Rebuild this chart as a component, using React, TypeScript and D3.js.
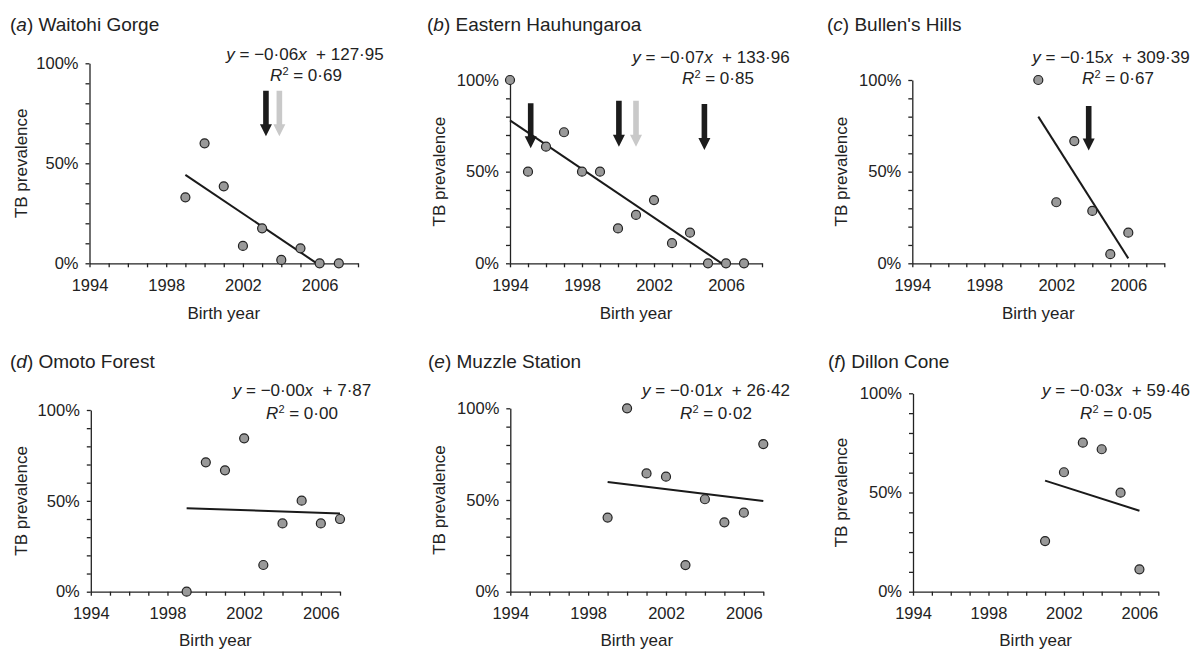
import React, { useEffect, useRef } from 'react';
import * as d3 from 'd3';

// birth year / TB prevalence (%)
const waitohiYears = [1999, 2000, 2001, 2002, 2003, 2004, 2005, 2006, 2007];
const waitohiPrev = [33, 60, 38.5, 8.7, 17.5, 1.7, 7.5, 0, 0];

const hauhungaroaYears = [1994, 1995, 1996, 1997, 1998, 1999, 2000, 2001, 2002, 2003, 2004, 2005, 2006, 2007];
const hauhungaroaPrev = [100, 50, 63.6, 71.5, 50, 50, 19, 26.4, 34.5, 11, 16.7, 0, 0, 0];

const bullensYears = [2001, 2002, 2003, 2004, 2005, 2006];
const bullensPrev = [100, 33.3, 66.7, 28.6, 5, 16.7];

const omotoYears = [1999, 2000, 2001, 2002, 2003, 2004, 2005, 2006, 2007];
const omotoPrev = [0, 71.2, 66.8, 84.4, 14.7, 37.6, 50.1, 37.6, 40];

const muzzleYears = [1999, 2000, 2001, 2002, 2003, 2004, 2005, 2006, 2007];
const muzzlePrev = [40.4, 100, 64.5, 62.7, 14.5, 50.4, 37.8, 43.1, 80.5];

const dillonYears = [2001, 2002, 2003, 2004, 2005, 2006];
const dillonPrev = [25.5, 60.2, 75.1, 71.8, 49.9, 11.3];

// fitted trend lines: [x0, y0, x1, y1]
const waitohiFit = [1999, 44.2, 2005.85, 0];
const hauhungaroaFit = [1994, 78, 2005.76, 0];
const bullensFit = [2001, 80, 2006, 2.7];
const omotoFit = [1999, 45.9, 2007, 43.1];
const muzzleFit = [1999, 59.8, 2007, 49.5];
const dillonFit = [2001, 56, 2006, 40.8];

// arrows: [year, top %, tip %, grey?]
const waitohiArrows: [number, number, number, boolean][] = [
  [2003.2, 86.3, 63.5, false],
  [2003.9, 86.3, 63.5, true],
];
const hauhungaroaArrows: [number, number, number, boolean][] = [
  [1995.15, 87.3, 62.7, false],
  [2000.05, 88.7, 63.6, false],
  [2001.0, 88.7, 63.6, true],
  [2004.8, 86.9, 61.8, false],
];
const bullensArrows: [number, number, number, boolean][] = [[2003.8, 85.8, 61.5, false]];

// regression text: slope, intercept, R²
const waitohiEq = ['0·06', '127·95', '0·69'];
const hauhungaroaEq = ['0·07', '133·96', '0·85'];
const bullensEq = ['0·15', '309·39', '0·67'];
const omotoEq = ['0·00', '7·87', '0·00'];
const muzzleEq = ['0·01', '26·42', '0·02'];
const dillonEq = ['0·03', '59·46', '0·05'];

const FONT = "'Liberation Sans', Arial, Helvetica, sans-serif";

const panels = [
  { letter: 'a', name: 'Waitohi Gorge', years: waitohiYears, prev: waitohiPrev, fit: waitohiFit, arrows: waitohiArrows, eq: waitohiEq,
    left: 89.5, right: 358, top: 63.3, bottom: 263.3, xMax: 2008, titleX: 10, titleY: 31, ylabX: 21,
    eqX: 305, rX: 306, eqY: 60, rY: 81, xlabY: 319 },
  { letter: 'b', name: 'Eastern Hauhungaroa', years: hauhungaroaYears, prev: hauhungaroaPrev, fit: hauhungaroaFit, arrows: hauhungaroaArrows, eq: hauhungaroaEq,
    left: 510, right: 762, top: 80, bottom: 263.3, xMax: 2008, titleX: 427, titleY: 31, ylabX: 439,
    eqX: 711, rX: 718, eqY: 63, rY: 84, xlabY: 319 },
  { letter: 'c', name: "Bullen's Hills", years: bullensYears, prev: bullensPrev, fit: bullensFit, arrows: bullensArrows, eq: bullensEq,
    left: 912.3, right: 1164.3, top: 80, bottom: 263.3, xMax: 2008, titleX: 827, titleY: 31, ylabX: 841,
    eqX: 1111, rX: 1118, eqY: 63, rY: 84, xlabY: 319 },
  { letter: 'd', name: 'Omoto Forest', years: omotoYears, prev: omotoPrev, fit: omotoFit, arrows: [], eq: omotoEq,
    left: 90.8, right: 340, top: 410, bottom: 591.7, xMax: 2007, titleX: 10, titleY: 368, ylabX: 21,
    eqX: 302, rX: 302, eqY: 396, rY: 419, xlabY: 646 },
  { letter: 'e', name: 'Muzzle Station', years: muzzleYears, prev: muzzlePrev, fit: muzzleFit, arrows: [], eq: muzzleEq,
    left: 510.3, right: 763.3, top: 408.3, bottom: 591.7, xMax: 2007, titleX: 428, titleY: 368, ylabX: 439,
    eqX: 716, rX: 716, eqY: 396, rY: 419, xlabY: 646 },
  { letter: 'f', name: 'Dillon Cone', years: dillonYears, prev: dillonPrev, fit: dillonFit, arrows: [], eq: dillonEq,
    left: 913, right: 1158.3, top: 393.3, bottom: 591.7, xMax: 2007, titleX: 828, titleY: 368, ylabX: 841,
    eqX: 1116, rX: 1116, eqY: 396, rY: 419, xlabY: 646 },
];

export default function App() {
  const ref = useRef<SVGSVGElement>(null);

  useEffect(() => {
    const svg = d3.select(ref.current);
    svg.selectAll('*').remove();

    panels.forEach((p) => {
      const x = d3.scaleLinear().domain([1994, p.xMax]).range([p.left, p.right]);
      const y = d3.scaleLinear().domain([0, 100]).range([p.bottom, p.top]);
      const g = svg.append('g').attr('font-family', FONT).attr('fill', '#222');

      // title
      const t = g.append('text').attr('x', p.titleX).attr('y', p.titleY).attr('font-size', 19);
      t.append('tspan').text('(');
      t.append('tspan').attr('font-style', 'italic').text(p.letter);
      t.append('tspan').text(') ' + p.name);

      // axes
      const yAxis = g
        .append('g')
        .attr('transform', `translate(${p.left},0)`)
        .call(
          d3
            .axisLeft(y)
            .tickValues(d3.range(0, 101, 10))
            .tickFormat((d) => ((d as number) % 50 === 0 ? `${d}%` : ''))
            .tickSize(4)
            .tickPadding(7)
            .tickSizeOuter(0)
        );
      const xAxis = g
        .append('g')
        .attr('transform', `translate(0,${p.bottom})`)
        .call(
          d3
            .axisBottom(x)
            .tickValues(d3.range(1994, p.xMax + 1))
            .tickFormat((d) => (((d as number) - 1994) % 4 === 0 ? String(d) : ''))
            .tickSize(4)
            .tickPadding(12)
            .tickSizeOuter(0)
        );
      [yAxis, xAxis].forEach((a) => {
        a.attr('font-size', 16.5).attr('font-family', FONT).attr('color', '#222');
        a.selectAll('path,line').attr('stroke-width', 1.3);
      });

      // axis titles
      g.append('text')
        .attr('x', (p.left + p.right) / 2)
        .attr('y', p.xlabY)
        .attr('text-anchor', 'middle')
        .attr('font-size', 17)
        .text('Birth year');
      g.append('text')
        .attr('transform', `translate(${p.ylabX},${(p.top + p.bottom) / 2}) rotate(-90)`)
        .attr('text-anchor', 'middle')
        .attr('dominant-baseline', 'central')
        .attr('font-size', 17)
        .text('TB prevalence');

      // arrows
      const sw = 2.8, hw = 6, hl = 12;
      g.selectAll('path.arrow')
        .data(p.arrows)
        .join('path')
        .attr('class', 'arrow')
        .attr('d', (a) => {
          const cx = x(a[0]), yt = y(a[1]), yp = y(a[2]);
          return `M${cx - sw},${yt}H${cx + sw}V${yp - hl}H${cx + hw}L${cx},${yp}L${cx - hw},${yp - hl}H${cx - sw}Z`;
        })
        .attr('fill', (a) => (a[3] ? '#c9c9c9' : '#1c1c1c'));

      // trend line
      g.append('line')
        .attr('x1', x(p.fit[0]))
        .attr('y1', y(p.fit[1]))
        .attr('x2', x(p.fit[2]))
        .attr('y2', y(p.fit[3]))
        .attr('stroke', '#1a1a1a')
        .attr('stroke-width', 2);

      // points
      g.selectAll('circle')
        .data(p.years)
        .join('circle')
        .attr('cx', (d) => x(d))
        .attr('cy', (d, i) => y(p.prev[i]))
        .attr('r', 4.5)
        .attr('fill', '#999')
        .attr('stroke', '#222')
        .attr('stroke-width', 1.2);

      // equation
      const e1 = g
        .append('text')
        .attr('x', p.eqX)
        .attr('y', p.eqY)
        .attr('text-anchor', 'middle')
        .attr('font-size', 17)
        .style('white-space', 'pre');
      e1.append('tspan').attr('font-style', 'italic').text('y');
      e1.append('tspan').text(` = \u2212${p.eq[0]}`);
      e1.append('tspan').attr('font-style', 'italic').text('x');
      e1.append('tspan').text(`  + ${p.eq[1]}`);
      const e2 = g
        .append('text')
        .attr('x', p.rX)
        .attr('y', p.rY)
        .attr('text-anchor', 'middle')
        .attr('font-size', 17)
        .style('white-space', 'pre');
      e2.append('tspan').attr('font-style', 'italic').text('R');
      e2.append('tspan').attr('font-size', 11).attr('dy', -6).text('2');
      e2.append('tspan').attr('dy', 6).text(` = ${p.eq[2]}`);
    });
  }, []);

  return (
    <svg
      ref={ref}
      width={1196}
      height={649}
      style={{ position: 'absolute', left: 0, top: 0, background: '#fff', display: 'block' }}
    />
  );
}
